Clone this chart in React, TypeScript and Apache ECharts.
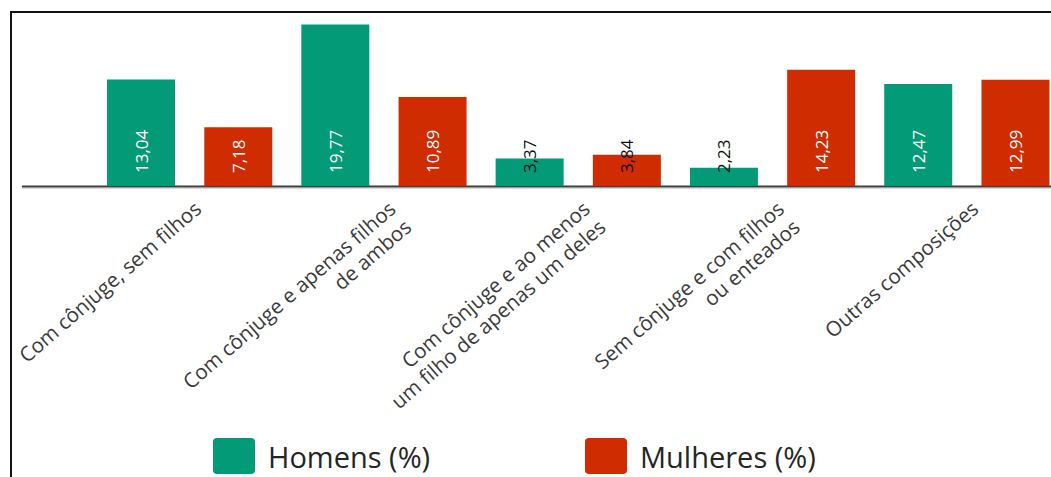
import React, { useEffect, useRef } from "react";
import * as echarts from "echarts";

const categories = [
  "Com cônjuge, sem filhos",
  "Com cônjuge e apenas filhos\nde ambos",
  "Com cônjuge e ao menos\num filho de apenas um deles",
  "Sem cônjuge e com filhos\nou enteados",
  "Outras composições",
];
const homens = [13.04, 19.77, 3.37, 2.23, 12.47];
const mulheres = [7.18, 10.89, 3.84, 14.23, 12.99];
const seriesNames = ["Homens (%)", "Mulheres (%)"];

const GREEN = "#039b77";
const RED = "#d02c02";
const FONT = "'Open Sans', 'Noto Sans', sans-serif";

const toItems = (vals: number[]) =>
  vals.map((v) => ({
    value: v,
    label: { color: v < 5 ? "#111111" : "#ffffff" },
  }));

const legendIcon =
  "path://M4,0 H38 Q42,0 42,4 V32 Q42,36 38,36 H4 Q0,36 0,32 V4 Q0,0 4,0 Z";

const CHART_W = 1080;

export default function App() {
  const ref = useRef<HTMLDivElement>(null);
  useEffect(() => {
    if (!ref.current) return;
    const chart = echarts.init(ref.current, null, { renderer: "svg" });
    const label = {
      show: true,
      position: "insideBottom" as const,
      distance: 13,
      rotate: 90,
      align: "left" as const,
      verticalAlign: "middle" as const,
      fontSize: 17,
      fontFamily: FONT,
      formatter: (p: any) => String(p.value.toFixed(2)).replace(".", ","),
    };
    chart.setOption({
      animation: false,
      backgroundColor: "#ffffff",
      grid: { left: 92.5, top: 22.6, width: 971.5, height: 163.4, containLabel: false },
      xAxis: {
        type: "category",
        data: categories,
        axisLine: { show: false },
        axisTick: { show: false },
        axisLabel: {
          interval: 0,
          rotate: 41,
          margin: 10,
          fontSize: 20.5,
          lineHeight: 24,
          fontFamily: FONT,
          color: "#3a3a3a",
          verticalAlign: "top",
        },
      },
      yAxis: { type: "value", min: 0, max: 20, show: false, splitLine: { show: false } },
      legend: [
        {
          data: [seriesNames[0]],
          left: 213,
          top: 438,
          padding: 0,
          itemWidth: 42,
          itemHeight: 36,
          icon: legendIcon,
          textStyle: { fontSize: 29, fontFamily: FONT, color: "#252525", padding: [0, 0, 0, 8] },
        },
        {
          data: [seriesNames[1]],
          left: 585,
          top: 438,
          padding: 0,
          itemWidth: 42,
          itemHeight: 36,
          icon: legendIcon,
          textStyle: { fontSize: 29, fontFamily: FONT, color: "#252525", padding: [0, 0, 0, 8] },
        },
      ],
      series: [
        {
          name: seriesNames[0],
          type: "bar",
          data: toItems(homens),
          barWidth: 68,
          barGap: "43%",
          itemStyle: { color: GREEN },
          label,
        },
        {
          name: seriesNames[1],
          type: "bar",
          data: toItems(mulheres),
          barWidth: 68,
          itemStyle: { color: RED },
          label,
        },
      ],
      graphic: [
        { type: "line", shape: { x1: 10, y1: 12, x2: CHART_W, y2: 12 }, style: { stroke: "#111", lineWidth: 2 } },
        { type: "line", shape: { x1: 11, y1: 11, x2: 11, y2: 477 }, style: { stroke: "#111", lineWidth: 2 } },
        { type: "line", shape: { x1: 22, y1: 188.5, x2: CHART_W, y2: 188.5 }, style: { stroke: "#d8d8d8", lineWidth: 1 } },
        { type: "line", shape: { x1: 22, y1: 186.5, x2: CHART_W, y2: 186.5 }, style: { stroke: "#3d3d3d", lineWidth: 2 } },
      ],
    });
    return () => chart.dispose();
  }, []);
  return (
    <div
      style={{ position: "fixed", left: 0, top: 0, width: 1051, height: 477, overflow: "hidden", background: "#fff" }}
    >
      <div ref={ref} style={{ width: CHART_W, height: 477 }} />
    </div>
  );
}
